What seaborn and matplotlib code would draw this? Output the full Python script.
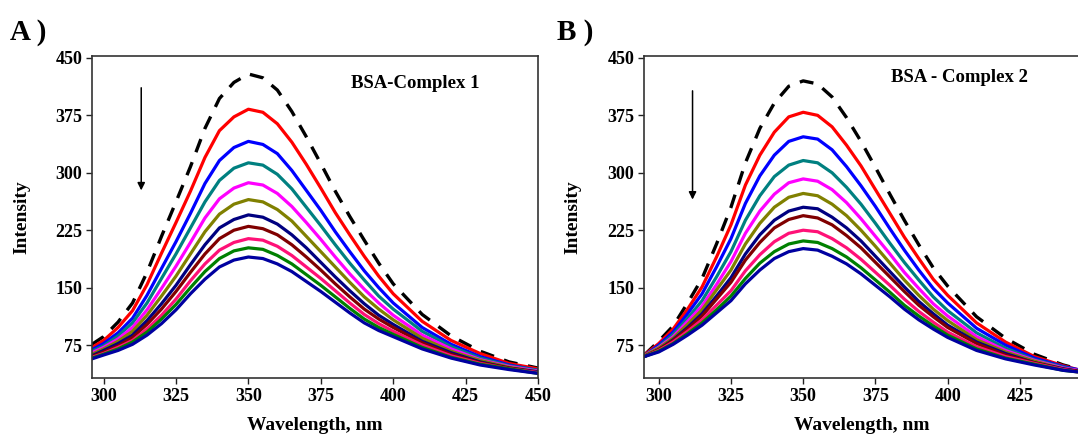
import matplotlib
matplotlib.use("Agg")
import matplotlib.pyplot as plt
import seaborn as sns

# ------------------------------------------------------------
# datos (intensidad de fluorescencia)
# ------------------------------------------------------------
WL_A = [296, 300, 305, 310, 315, 320, 325, 330, 335, 340, 345, 350, 355, 360,
        365, 370, 375, 380, 385, 390, 395, 400, 410, 420, 430, 440, 450]
WL_B = [295, 300, 305, 310, 315, 320, 325, 330, 335, 340, 345, 350, 355, 360,
        365, 370, 375, 380, 385, 390, 395, 400, 410, 420, 430, 440, 445]

# panel A: BSA libre (linea discontinua) + 10 adiciones de complejo 1
a_free = [76, 86, 105, 130, 170, 217, 262, 308, 358, 397, 418, 429, 424, 408,
          380, 347, 312, 276, 243, 212, 182, 155, 115, 87, 67, 53, 45]
a_red = [72, 81, 98, 120, 154, 195, 235, 276, 320, 355, 373, 383, 379, 364,
         340, 311, 280, 248, 219, 191, 165, 142, 106, 81, 64, 51, 44]
a_blue = [69, 77, 91, 110, 140, 175, 210, 247, 286, 316, 333, 341, 337, 325,
          303, 277, 251, 223, 197, 172, 150, 130, 98, 76, 60, 49, 42]
a_teal = [67, 74, 87, 104, 130, 162, 194, 228, 262, 290, 306, 313, 310, 298,
          279, 255, 231, 206, 182, 160, 139, 122, 93, 73, 58, 48, 42]
a_magenta = [65, 72, 83, 98, 121, 149, 178, 209, 241, 266, 280, 287, 284, 273,
             256, 235, 213, 190, 168, 148, 130, 114, 88, 70, 56, 47, 41]
a_olive = [63, 70, 80, 93, 114, 139, 165, 194, 223, 246, 259, 265, 262, 252,
           237, 217, 197, 177, 157, 138, 122, 108, 84, 67, 55, 46, 40]
a_navy = [61, 68, 77, 88, 107, 129, 153, 180, 206, 228, 239, 245, 242, 233,
          219, 202, 183, 164, 146, 129, 114, 102, 80, 65, 53, 45, 40]
a_maroon = [60, 66, 74, 85, 102, 122, 145, 170, 194, 214, 225, 230, 227, 219,
            206, 190, 173, 155, 138, 122, 109, 98, 78, 63, 52, 45, 39]
a_pink = [59, 64, 72, 81, 96, 114, 135, 159, 181, 199, 209, 214, 212, 204,
          192, 177, 162, 146, 130, 115, 103, 93, 75, 61, 51, 44, 39]
a_green = [58, 63, 70, 79, 92, 109, 128, 150, 171, 188, 198, 202, 200, 192,
           181, 167, 153, 138, 123, 109, 98, 89, 72, 59, 50, 44, 38]
a_dkblue = [57, 62, 68, 76, 88, 103, 121, 142, 161, 177, 186, 190, 188, 181,
            171, 158, 145, 131, 117, 104, 94, 86, 70, 58, 49, 43, 38]

# panel B: BSA libre + 10 adiciones de complejo 2
b_free = [62, 80, 100, 130, 162, 207, 255, 313, 358, 391, 413, 420, 416, 399,
          372, 341, 307, 272, 238, 206, 176, 152, 112, 84, 63, 49, 44]
b_red = [62, 77, 96, 122, 151, 190, 232, 284, 323, 353, 373, 379, 375, 360,
         336, 309, 278, 247, 216, 188, 161, 140, 104, 79, 60, 48, 43]
b_blue = [61, 75, 92, 116, 142, 177, 214, 260, 296, 323, 341, 347, 344, 330,
          308, 283, 256, 227, 199, 173, 149, 130, 97, 75, 58, 47, 43]
b_teal = [61, 73, 89, 110, 133, 164, 197, 238, 270, 295, 310, 316, 313, 300,
          281, 259, 234, 208, 183, 160, 138, 120, 91, 71, 56, 46, 42]
b_magenta = [61, 72, 86, 106, 126, 154, 184, 221, 250, 272, 287, 292, 289, 278,
             261, 240, 217, 194, 170, 149, 129, 113, 86, 68, 55, 45, 42]
b_olive = [61, 71, 84, 102, 121, 147, 173, 207, 234, 255, 268, 273, 270, 259,
           244, 225, 204, 182, 160, 140, 122, 107, 82, 66, 54, 44, 41]
b_navy = [60, 69, 82, 98, 116, 139, 163, 194, 219, 238, 250, 255, 253, 242,
          228, 211, 191, 171, 151, 132, 116, 101, 79, 64, 52, 44, 41]
b_maroon = [60, 69, 81, 96, 113, 135, 157, 186, 209, 228, 239, 244, 241, 232,
            218, 202, 183, 164, 145, 127, 112, 98, 77, 62, 52, 43, 41]
b_pink = [60, 68, 79, 93, 108, 127, 146, 172, 193, 210, 221, 225, 223, 214,
          202, 187, 170, 153, 135, 119, 105, 92, 73, 60, 51, 43, 40]
b_green = [60, 67, 77, 90, 104, 121, 139, 162, 182, 197, 207, 211, 209, 201,
           190, 176, 160, 144, 127, 113, 100, 88, 70, 58, 50, 42, 40]
b_dkblue = [60, 66, 76, 88, 101, 117, 133, 155, 173, 188, 197, 201, 199, 191,
            181, 168, 153, 138, 122, 108, 96, 85, 68, 57, 49, 42, 40]

COLORS = ["#ff0000", "#0000ff", "#008080", "#ff00ff", "#808000",
          "#000080", "#800000", "#ff1177", "#008000", "#0000a0"]

Y_TICKS = [75, 150, 225, 300, 375, 450]
XTICKS_A = [300, 325, 350, 375, 400, 425, 450]
XTICKS_B = [300, 325, 350, 375, 400, 425]

# ------------------------------------------------------------
# estilo
# ------------------------------------------------------------
sns.set_style("ticks")
plt.rcParams["font.family"] = ["Liberation Serif", "DejaVu Serif"]
plt.rcParams["font.weight"] = "bold"
plt.rcParams["text.color"] = "black"
plt.rcParams["axes.labelcolor"] = "black"
plt.rcParams["axes.linewidth"] = 1.2
plt.rcParams["axes.edgecolor"] = "#333333"

fig = plt.figure(figsize=(10.78, 4.37), dpi=100)
ax_a = fig.add_axes([92 / 1078, 59 / 437, 446 / 1078, 322 / 437])
ax_b = fig.add_axes([644 / 1078, 59 / 437, 436 / 1078, 322 / 437])


def draw_panel(ax, wl, free, quenched, xlim, xticks, title, arrow_x, arrow_y,
               ylab_x):
    sns.lineplot(x=wl, y=free, ax=ax, color="black", lw=2.4,
                 linestyle=(0, (4.2, 3.2)))
    for vals, c in zip(quenched, COLORS):
        sns.lineplot(x=wl, y=vals, ax=ax, color=c, lw=2.3,
                     solid_joinstyle="round")

    ax.set_xlim(*xlim)
    ax.set_ylim(32, 452.5)
    ax.set_xticks(xticks)
    ax.set_yticks(Y_TICKS)
    ax.tick_params(axis="both", direction="out", length=4, width=1,
                   labelsize=13, pad=3, colors="#222222", labelcolor="black")
    for lab in ax.get_xticklabels() + ax.get_yticklabels():
        lab.set_fontweight("bold")

    ax.set_xlabel("Wavelength, nm", fontsize=14, fontweight="bold", va="center")
    ax.set_ylabel("Intensity", fontsize=14, fontweight="bold", va="center")
    ax.xaxis.set_label_coords(0.5, -(425 - 378) / 322)
    ax.yaxis.set_label_coords(ylab_x, 0.5)

    ax.text(title[1], title[2], title[0], fontsize=13.5, fontweight="bold",
            ha="left", va="center")

    # flecha de disminucion de intensidad
    ax.annotate("", xy=(arrow_x, arrow_y[1]), xytext=(arrow_x, arrow_y[0]),
                arrowprops=dict(arrowstyle="-|>", color="black", lw=1.1,
                                mutation_scale=11, shrinkA=0, shrinkB=0))


draw_panel(ax_a, WL_A, a_free,
           [a_red, a_blue, a_teal, a_magenta, a_olive, a_navy, a_maroon,
            a_pink, a_green, a_dkblue],
           (296, 450), XTICKS_A, ("BSA-Complex 1", 385.5, 417),
           313, (411, 277), -70 / 446)
draw_panel(ax_b, WL_B, b_free,
           [b_red, b_blue, b_teal, b_magenta, b_olive, b_navy, b_maroon,
            b_pink, b_green, b_dkblue],
           (294.9, 445.8), XTICKS_B, ("BSA - Complex 2", 380.5, 424),
           311.7, (407, 265), -71 / 436)

fig.text(10 / 1078, 1 - 32 / 437, "A )", fontsize=21, fontweight="bold",
         ha="left", va="center")
fig.text(557 / 1078, 1 - 32 / 437, "B )", fontsize=21, fontweight="bold",
         ha="left", va="center")

fig.savefig("out.png", dpi=100)
